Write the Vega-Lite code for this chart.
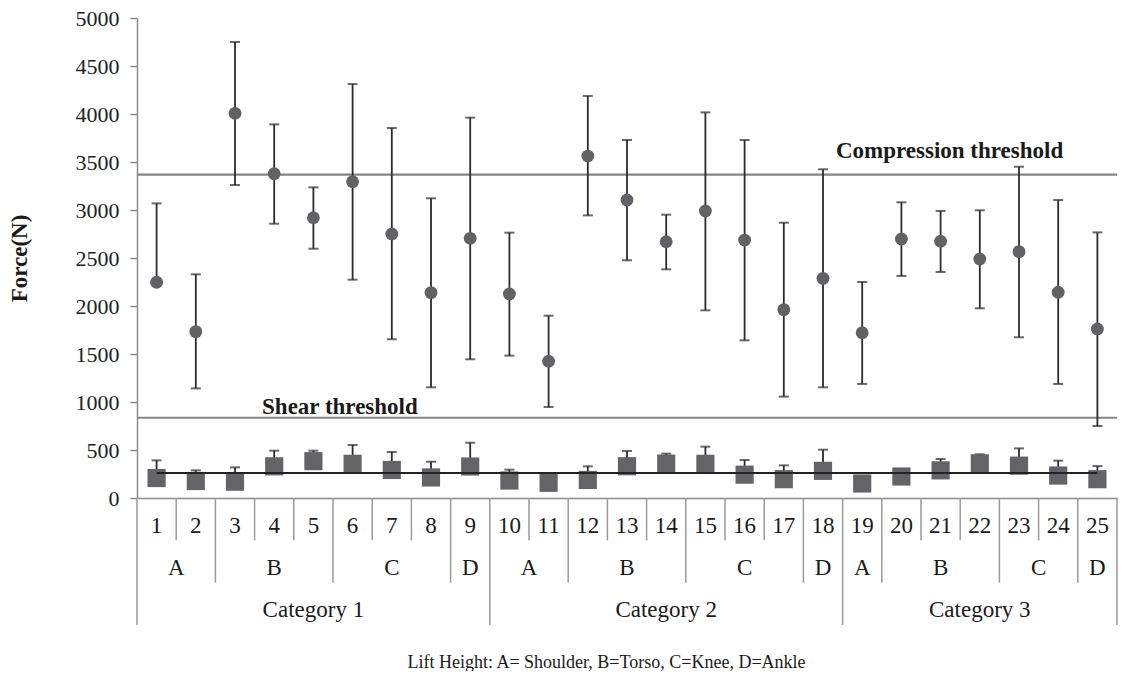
{
  "$schema": "https://vega.github.io/schema/vega-lite/v6.json",
  "background": "white",
  "padding": {"left": 8, "top": 7, "right": 5, "bottom": 0},
  "spacing": 0,
  "bounds": "flush",
  "config": {
    "view": {"stroke": null},
    "font": "Liberation Serif",
    "concat": {"spacing": 0},
    "axisY": {
      "titleFontSize": 23, "titleFontWeight": "bold", "titleColor": "#1a1a1a", "titlePadding": 44,
      "labelFontSize": 22, "labelColor": "#222222", "labelPadding": 11, "tickSize": 7, "format": "d",
      "tickColor": "#8c8c8c", "domainColor": "#8c8c8c", "grid": false, "tickWidth": 1.5, "domainWidth": 1.5
    },
    "axisX": {
      "labels": false, "ticks": false, "grid": false, "domainColor": "#8c8c8c", "domainWidth": 1.5,
      "labelPadding": 0, "minExtent": 0, "titleFontSize": 18, "titleFontWeight": "normal", "titleColor": "#1a1a1a", "titlePadding": 28
    }
  },
  "datasets": {
    "bins": [
      {"bin": 1, "comp": 2247, "lo": 2247, "hi": 3069, "shear": 208, "shi": 392},
      {"bin": 2, "comp": 1733, "lo": 1142, "hi": 2330, "shear": 177, "shi": 288},
      {"bin": 3, "comp": 4007, "lo": 3260, "hi": 4750, "shear": 170, "shi": 319},
      {"bin": 4, "comp": 3378, "lo": 2857, "hi": 3892, "shear": 330, "shi": 493},
      {"bin": 5, "comp": 2920, "lo": 2597, "hi": 3236, "shear": 384, "shi": 493},
      {"bin": 6, "comp": 3295, "lo": 2274, "hi": 4312, "shear": 356, "shi": 552},
      {"bin": 7, "comp": 2750, "lo": 1653, "hi": 3854, "shear": 292, "shi": 479},
      {"bin": 8, "comp": 2139, "lo": 1153, "hi": 3122, "shear": 214, "shi": 378},
      {"bin": 9, "comp": 2705, "lo": 1445, "hi": 3962, "shear": 328, "shi": 576},
      {"bin": 10, "comp": 2125, "lo": 1483, "hi": 2764, "shear": 182, "shi": 295},
      {"bin": 11, "comp": 1424, "lo": 948, "hi": 1899, "shear": 158, "shi": 158},
      {"bin": 12, "comp": 3562, "lo": 2944, "hi": 4188, "shear": 188, "shi": 330},
      {"bin": 13, "comp": 3104, "lo": 2476, "hi": 3729, "shear": 331, "shi": 490},
      {"bin": 14, "comp": 2670, "lo": 2382, "hi": 2951, "shear": 358, "shi": 462},
      {"bin": 15, "comp": 2990, "lo": 1955, "hi": 4017, "shear": 356, "shi": 535},
      {"bin": 16, "comp": 2687, "lo": 1642, "hi": 3729, "shear": 243, "shi": 396},
      {"bin": 17, "comp": 1962, "lo": 1056, "hi": 2868, "shear": 196, "shi": 340},
      {"bin": 18, "comp": 2288, "lo": 1153, "hi": 3424, "shear": 283, "shi": 503},
      {"bin": 19, "comp": 1722, "lo": 1188, "hi": 2250, "shear": 151, "shi": 151},
      {"bin": 20, "comp": 2698, "lo": 2313, "hi": 3080, "shear": 224, "shi": 224},
      {"bin": 21, "comp": 2674, "lo": 2354, "hi": 2990, "shear": 288, "shi": 406},
      {"bin": 22, "comp": 2490, "lo": 1976, "hi": 2997, "shear": 361, "shi": 455},
      {"bin": 23, "comp": 2566, "lo": 1674, "hi": 3451, "shear": 337, "shi": 517},
      {"bin": 24, "comp": 2143, "lo": 1188, "hi": 3104, "shear": 234, "shi": 389},
      {"bin": 25, "comp": 1760, "lo": 750, "hi": 2767, "shear": 196, "shi": 333}
    ],
    "thr": [
      {"name": "Compression threshold", "v": 3368, "lx": 18.33, "ly": 3540},
      {"name": "Shear threshold", "v": 836, "lx": 3.69, "ly": 875}
    ],
    "trend": [{"x1": 1, "x2": 25, "v": 260}],
    "dividers": [
      {"x": 0.5, "depth": 3}, {"x": 1.5, "depth": 1}, {"x": 2.5, "depth": 2}, {"x": 3.5, "depth": 1},
      {"x": 4.5, "depth": 1}, {"x": 5.5, "depth": 2}, {"x": 6.5, "depth": 1}, {"x": 7.5, "depth": 1},
      {"x": 8.5, "depth": 2}, {"x": 9.5, "depth": 3}, {"x": 10.5, "depth": 1}, {"x": 11.5, "depth": 2},
      {"x": 12.5, "depth": 1}, {"x": 13.5, "depth": 1}, {"x": 14.5, "depth": 2}, {"x": 15.5, "depth": 1},
      {"x": 16.5, "depth": 1}, {"x": 17.5, "depth": 2}, {"x": 18.5, "depth": 3}, {"x": 19.5, "depth": 2},
      {"x": 20.5, "depth": 1}, {"x": 21.5, "depth": 1}, {"x": 22.5, "depth": 2}, {"x": 23.5, "depth": 1},
      {"x": 24.5, "depth": 2}, {"x": 25.5, "depth": 3}
    ],
    "labels": [
      {"x": 1, "row": 0.65, "label": "1"}, {"x": 2, "row": 0.65, "label": "2"}, {"x": 3, "row": 0.65, "label": "3"},
      {"x": 4, "row": 0.65, "label": "4"}, {"x": 5, "row": 0.65, "label": "5"}, {"x": 6, "row": 0.65, "label": "6"},
      {"x": 7, "row": 0.65, "label": "7"}, {"x": 8, "row": 0.65, "label": "8"}, {"x": 9, "row": 0.65, "label": "9"},
      {"x": 10, "row": 0.65, "label": "10"}, {"x": 11, "row": 0.65, "label": "11"}, {"x": 12, "row": 0.65, "label": "12"},
      {"x": 13, "row": 0.65, "label": "13"}, {"x": 14, "row": 0.65, "label": "14"}, {"x": 15, "row": 0.65, "label": "15"},
      {"x": 16, "row": 0.65, "label": "16"}, {"x": 17, "row": 0.65, "label": "17"}, {"x": 18, "row": 0.65, "label": "18"},
      {"x": 19, "row": 0.65, "label": "19"}, {"x": 20, "row": 0.65, "label": "20"}, {"x": 21, "row": 0.65, "label": "21"},
      {"x": 22, "row": 0.65, "label": "22"}, {"x": 23, "row": 0.65, "label": "23"}, {"x": 24, "row": 0.65, "label": "24"},
      {"x": 25, "row": 0.65, "label": "25"},
      {"x": 1.5, "row": 1.65, "label": "A"}, {"x": 4, "row": 1.65, "label": "B"}, {"x": 7, "row": 1.65, "label": "C"},
      {"x": 9, "row": 1.65, "label": "D"}, {"x": 10.5, "row": 1.65, "label": "A"}, {"x": 13, "row": 1.65, "label": "B"},
      {"x": 16, "row": 1.65, "label": "C"}, {"x": 18, "row": 1.65, "label": "D"}, {"x": 19, "row": 1.65, "label": "A"},
      {"x": 21, "row": 1.65, "label": "B"}, {"x": 23.5, "row": 1.65, "label": "C"}, {"x": 25, "row": 1.65, "label": "D"},
      {"x": 5, "row": 2.65, "label": "Category 1"}, {"x": 14, "row": 2.65, "label": "Category 2"}, {"x": 22, "row": 2.65, "label": "Category 3"}
    ]
  },
  "vconcat": [
    {
      "width": 980,
      "height": 480,
      "layer": [
        {
          "data": {"name": "thr"},
          "mark": {"type": "rule", "color": "#858585", "strokeWidth": 2.2},
          "encoding": {
            "y": {"field": "v", "type": "quantitative", "title": "Force(N)", "scale": {"domain": [0, 5000], "nice": false}}
          }
        },
        {
          "data": {"name": "thr"},
          "mark": {"type": "text", "fontWeight": "bold", "fontSize": 23, "align": "left", "baseline": "alphabetic", "color": "#1a1a1a"},
          "encoding": {
            "x": {"field": "lx", "type": "quantitative", "title": null, "scale": {"domain": [0.5, 25.5], "nice": false, "zero": false}},
            "y": {"field": "ly", "type": "quantitative", "title": "Force(N)", "scale": {"domain": [0, 5000]}},
            "text": {"field": "name"}
          }
        },
        {
          "data": {"name": "bins"},
          "mark": {"type": "rule", "color": "#2b2b2b", "strokeWidth": 1.8},
          "encoding": {
            "x": {"field": "bin", "type": "quantitative", "title": null, "scale": {"domain": [0.5, 25.5], "nice": false, "zero": false}},
            "y": {"field": "lo", "type": "quantitative", "title": "Force(N)", "scale": {"domain": [0, 5000]}},
            "y2": {"field": "hi"}
          }
        },
        {
          "data": {"name": "bins"},
          "mark": {"type": "tick", "orient": "horizontal", "color": "#2b2b2b", "size": 10, "thickness": 2},
          "encoding": {
            "x": {"field": "bin", "type": "quantitative", "title": null, "scale": {"domain": [0.5, 25.5]}},
            "y": {"field": "hi", "type": "quantitative", "title": "Force(N)", "scale": {"domain": [0, 5000]}}
          }
        },
        {
          "data": {"name": "bins"},
          "mark": {"type": "tick", "orient": "horizontal", "color": "#2b2b2b", "size": 10, "thickness": 2},
          "encoding": {
            "x": {"field": "bin", "type": "quantitative", "title": null, "scale": {"domain": [0.5, 25.5]}},
            "y": {"field": "lo", "type": "quantitative", "title": "Force(N)", "scale": {"domain": [0, 5000]}}
          }
        },
        {
          "data": {"name": "bins"},
          "mark": {"type": "circle", "size": 165, "opacity": 1, "color": "#616166"},
          "encoding": {
            "x": {"field": "bin", "type": "quantitative", "title": null, "scale": {"domain": [0.5, 25.5]}},
            "y": {"field": "comp", "type": "quantitative", "title": "Force(N)", "scale": {"domain": [0, 5000]}}
          }
        },
        {
          "data": {"name": "bins"},
          "mark": {"type": "rule", "color": "#2b2b2b", "strokeWidth": 1.8},
          "encoding": {
            "x": {"field": "bin", "type": "quantitative", "title": null, "scale": {"domain": [0.5, 25.5]}},
            "y": {"field": "shear", "type": "quantitative", "title": "Force(N)", "scale": {"domain": [0, 5000]}},
            "y2": {"field": "shi"}
          }
        },
        {
          "data": {"name": "bins"},
          "mark": {"type": "tick", "orient": "horizontal", "color": "#2b2b2b", "size": 10, "thickness": 2},
          "encoding": {
            "x": {"field": "bin", "type": "quantitative", "title": null, "scale": {"domain": [0.5, 25.5]}},
            "y": {"field": "shi", "type": "quantitative", "title": "Force(N)", "scale": {"domain": [0, 5000]}}
          }
        },
        {
          "data": {"name": "bins"},
          "mark": {"type": "square", "size": 330, "opacity": 1, "color": "#646468"},
          "encoding": {
            "x": {"field": "bin", "type": "quantitative", "title": null, "scale": {"domain": [0.5, 25.5]}},
            "y": {"field": "shear", "type": "quantitative", "title": "Force(N)", "scale": {"domain": [0, 5000]}}
          }
        },
        {
          "data": {"name": "trend"},
          "mark": {"type": "rule", "color": "#222222", "strokeWidth": 2},
          "encoding": {
            "x": {"field": "x1", "type": "quantitative", "title": null, "scale": {"domain": [0.5, 25.5]}},
            "x2": {"field": "x2"},
            "y": {"field": "v", "type": "quantitative", "title": "Force(N)", "scale": {"domain": [0, 5000]}}
          }
        }
      ]
    },
    {
      "width": 980,
      "height": 127,
      "layer": [
        {
          "data": {"name": "dividers"},
          "mark": {"type": "rule", "color": "#9a9a9a", "strokeWidth": 1.5},
          "encoding": {
            "x": {
              "field": "x", "type": "quantitative", "title": "Lift Height: A= Shoulder, B=Torso, C=Knee, D=Ankle",
              "scale": {"domain": [0.5, 25.5], "nice": false, "zero": false},
              "axis": {"domain": false, "titleX": 469, "titleAlign": "center"}
            },
            "y": {"field": "depth", "type": "quantitative", "scale": {"domain": [0, 3], "reverse": true, "nice": false}, "axis": null},
            "y2": {"datum": 0}
          }
        },
        {
          "data": {"name": "labels"},
          "mark": {"type": "text", "fontSize": 23, "color": "#1a1a1a", "baseline": "middle", "align": "center"},
          "encoding": {
            "x": {
              "field": "x", "type": "quantitative", "title": "Lift Height: A= Shoulder, B=Torso, C=Knee, D=Ankle",
              "scale": {"domain": [0.5, 25.5]},
              "axis": {"domain": false, "titleX": 469, "titleAlign": "center"}
            },
            "y": {"field": "row", "type": "quantitative", "scale": {"domain": [0, 3], "reverse": true}, "axis": null},
            "text": {"field": "label"}
          }
        }
      ]
    }
  ]
}
